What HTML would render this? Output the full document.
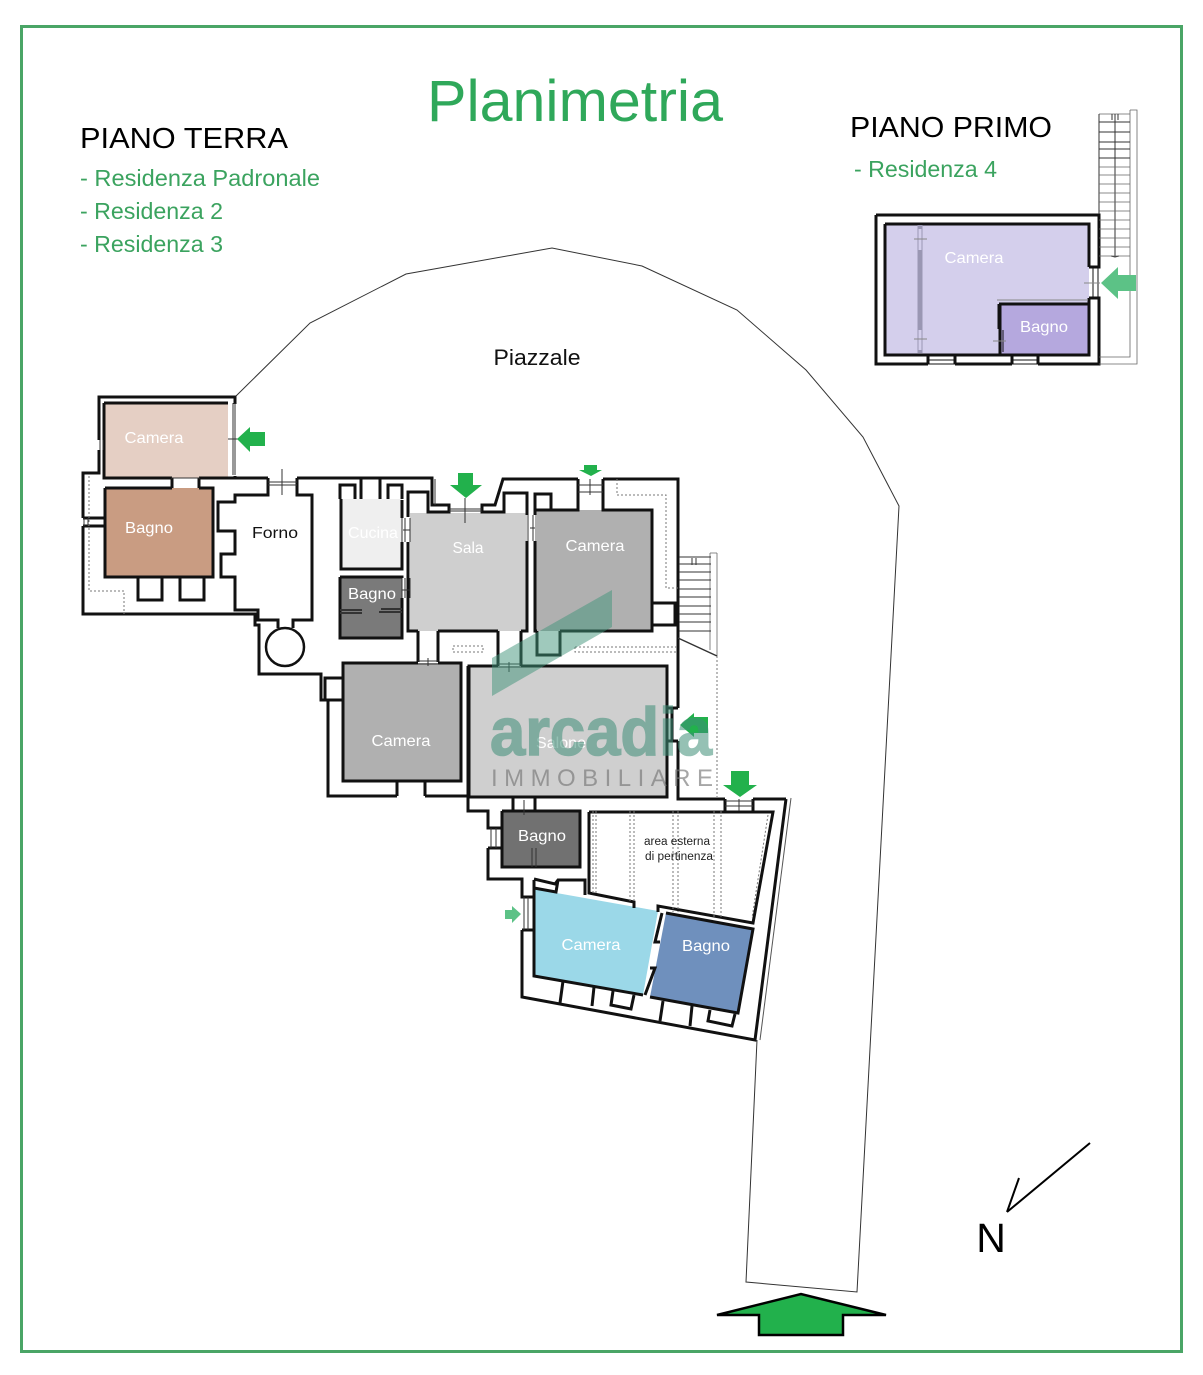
<!DOCTYPE html>
<html><head><meta charset="utf-8"><style>
html,body{margin:0;padding:0;background:#fff}
svg{display:block}
text{font-family:"Liberation Sans",sans-serif}
.w{fill:none;stroke:#111;stroke-width:3;stroke-linejoin:miter}
.t{fill:none;stroke:#333;stroke-width:1}
.th{fill:none;stroke:#666;stroke-width:.8}
.d{fill:none;stroke:#777;stroke-width:1;stroke-dasharray:2 2}
.l{fill:#fff;font-size:16px}
.k{fill:#111;font-size:16px}
.g{fill:#3ba35f;font-size:23px}
.a{fill:#22b14c}
.b{fill:#5cc286}
</style></head><body>
<svg width="1203" height="1375" viewBox="0 0 1203 1375" xmlns="http://www.w3.org/2000/svg">
<rect width="1203" height="1375" fill="#fff"/>
<rect x="21.5" y="26.5" width="1160" height="1325" fill="none" stroke="#4aa566" stroke-width="3"/>

<text x="427" y="121" textLength="296" lengthAdjust="spacingAndGlyphs" font-size="58" fill="#2fa85a">Planimetria</text>
<text x="80" y="148" textLength="208" lengthAdjust="spacingAndGlyphs" font-size="29" fill="#000">PIANO TERRA</text>
<text x="850" y="137" textLength="202" lengthAdjust="spacingAndGlyphs" font-size="29" fill="#000">PIANO PRIMO</text>
<text class="g" x="80" y="186" textLength="240" lengthAdjust="spacingAndGlyphs">- Residenza Padronale</text>
<text class="g" x="80" y="219" textLength="143" lengthAdjust="spacingAndGlyphs">- Residenza 2</text>
<text class="g" x="80" y="252" textLength="143" lengthAdjust="spacingAndGlyphs">- Residenza 3</text>
<text class="g" x="854" y="177" textLength="143" lengthAdjust="spacingAndGlyphs">- Residenza 4</text>

<!-- site boundary -->
<polyline class="t" points="235,397 310,323 406,274 552,248 642,266 737,310 806,370 863,437 899,506 857,1292 746,1282 757,1040"/>
<text x="537" y="365" text-anchor="middle" font-size="22" fill="#111" textLength="87" lengthAdjust="spacingAndGlyphs">Piazzale</text>

<!-- room fills -->
<rect x="104" y="403" width="124" height="75" fill="#e5cfc4"/>
<rect x="105" y="488" width="108" height="89" fill="#c99c82"/>
<rect x="341" y="499" width="61" height="70" fill="#efefef"/>
<rect x="340" y="577" width="62" height="61" fill="#7a7a7a"/>
<rect x="410" y="513" width="117" height="118" fill="#cfcfcf"/>
<rect x="535" y="510" width="117" height="121" fill="#b0b0b0"/>
<rect x="343" y="663" width="118" height="118" fill="#b0b0b0"/>
<rect x="469" y="666" width="198" height="131" fill="#cfcfcf"/>
<rect x="502" y="811" width="78" height="56" fill="#717171"/>
<polygon points="534,889 658,911 643,995 534,976" fill="#9bd8e8"/>
<polygon points="666,913 753,929 738,1013 650,997" fill="#6f90bd"/>
<rect x="885" y="224" width="204" height="131" fill="#d4cfec"/>
<rect x="1000" y="304" width="89" height="51" fill="#b5a8de"/>

<!-- ground floor walls -->
<path class="w" d="M235,404V397H99V440M99,450V473H83V518M83,526V614H255V625H259V674H321V700H328V796H397M425,796H468V666"/>
<path class="w" d="M104,403H228M104,403V478H172M199,478H228M235,476V478M172,478V488M199,478V488M105,488H172M199,488H213V577H105V488M83,518H105M83,526H105"/>
<path class="w" d="M138,577V600H162V577M180,577V600H204V577"/>
<path class="w" d="M228,478H268M297,478H432V505H449V512H428V492H408V517M408,542V631H418M438,631H498M521,631H527V541M527,515V493H504V512H482V505H495L503,479H578M603,479H678V708M678,741V799H725M753,799H786"/>
<path class="w" d="M268,478V495H235V502H218V531H235V554H221V577H235V610H258V620H278V628M297,478V495H312V620H293V628"/>
<circle cx="285" cy="647" r="19" fill="#fff" stroke="#111" stroke-width="2.5"/>
<path class="w" d="M340,499V485H355V499M361,499V479M380,499V479M388,499V485H402V499M341,499V569H402V542M402,518V500"/>
<path class="w" d="M340,577H402V578M340,577V638H402V598"/>
<path d="M340,610H362M340,613H362M379,612H402M381,609H402" stroke="#333" stroke-width="2" fill="none"/>
<path class="w" d="M535,510V494H551V510M535,510H578V479M603,479V510H652V631H560M537,631H535V541M535,515V510M652,603H675V625H652"/>
<path class="w" d="M418,631V662M438,631V662M498,631V666M521,631V666M537,631V655H560V631M418,663H343V781H461V663H438M343,678H325V700H343M397,781V796M425,781V796"/>
<path class="w" d="M498,666H469V797H667V666H521M667,708H678M667,741H678M672,708V741"/>
<path class="w" d="M468,797V811H488V828H502M488,848V879H522V897H534M522,930V997L755,1040L786,799M513,797V811M535,797V811M502,811H580V867H502V811M488,848H502M522,930H534"/>
<path class="w" d="M725,799V811M753,799V811M589,812H773L753,923L658,906V912M662,913L655,942H660M650,968H655L645,995M589,812V893L634,902V908"/>
<path class="w" d="M534,879L555,884L558,880H585V895M534,888L556,892L558,880M534,880V976L643,995"/>
<path class="w" d="M563,981L560,1003M594,987L592,1006M613,991L611,1005L631,1009L634,995M663,1001L660,1021M692,1006L690,1026M710,1010L708,1021L732,1026L735,1014"/>
<path class="w" d="M666,913L753,929L738,1013L650,997"/>
<path d="M791,798L760,1040" stroke="#555" stroke-width="1" fill="none"/>

<!-- window & door ticks -->
<path class="t" d="M282,469V495M268,482H297M268,485H297M435,479V505M449,509H482M449,511H482M465,498V523M402,518V542M405,518V542M410,518V542M403,530H410M402,578V598M405,578V598M410,578V598M402,590H410M528,515V541M533,515V541M530,528H535M590,479V495M578,485H603M578,492H603M418,661H438M418,664H438M428,658V666M498,664H521M498,667H521M509,662V672M238,439H228M233,403V475M235,403V475M100,440V450M103,440V450M84,518V526M88,518V526M524,800V815M739,799V811M725,801H753M725,806H753M524,897V930M528,897V930M532,848V867M536,848V867M491,828V848M496,828V848M171,478H200"/>

<!-- dashed service lines -->
<path class="d" d="M89,476V591H124V614"/>
<path class="d" d="M617,479V495H666V588H678"/>
<rect class="d" x="453" y="646" width="30" height="6"/>
<path class="d" d="M575,647V652H678M575,647H678"/>
<path class="th" d="M710,553H717M710,553V650M717,553V656"/>
<path d="M678,638L717,656" stroke="#333" stroke-width="1.5" fill="none"/>
<path class="t" d="M679,557H711M679,564H711M679,572H711M679,580H711M679,589H711M679,597H711M679,606H711M679,614H711M679,622H711M679,631H711M692,558V565M696,558V565"/>
<path class="d" d="M717,656V797"/>
<path class="d" d="M593,811V894M596,811V894M630,811V902M634,811V902M673,811V912M678,811V912M714,811V917M721,811V917M768,815L752,918"/>
<text x="677" y="845" text-anchor="middle" font-size="11.5" fill="#222" textLength="66" lengthAdjust="spacingAndGlyphs">area esterna</text>
<text x="679" y="860" text-anchor="middle" font-size="11.5" fill="#222" textLength="68" lengthAdjust="spacingAndGlyphs">di pertinenza</text>

<!-- first floor -->
<path class="w" d="M885,224H1089V267M1089,298V355H885V224"/>
<path class="w" d="M876,215H1099V267H1089M1089,298H1099V364H1038M1012,364H955M928,364H876V215M928,355V364M955,355V364M1012,355V364M1038,355V364"/>
<path class="w" d="M999,304H1089M999,304V329M1000,304V355H1089"/>
<path d="M999,330V352M1003,330V352" stroke="#111" stroke-width="1" fill="none"/>
<path d="M1093,267V298M1098,267V298M928,360H955M928,364H955M1012,360H1038M1012,364H1038" stroke="#111" stroke-width="1" fill="none"/>
<path d="M997,300H1088" stroke="#888" stroke-width="1" fill="none"/>
<path d="M918,225V353M922,225V353" stroke="#9a97b3" stroke-width="1" fill="none"/>
<path d="M920,225V229M920,250V330M920,350V353" stroke="#9a97b3" stroke-width="5" fill="none"/>
<path d="M914,239H927M914,339H927M993,341H1006M1084,283H1100" stroke="#888" stroke-width="1" fill="none"/>
<path class="th" d="M1099,114H1130V357H1099M1130,110H1137V364H1099M1130,110V114"/>
<path class="t" d="M1099,114V214M1099,122H1130M1099,132H1130M1099,142H1130M1099,149H1130M1099,158H1130M1115,114V257M1111,256L1115,257L1119,256M1112,114V120M1118,114V120"/>
<path class="th" d="M1099,167H1130M1099,175H1130M1099,184H1130M1099,193H1130M1099,202H1130M1099,211H1130M1099,220H1130M1099,229H1130M1099,238H1130M1099,247H1130M1099,256H1130"/>

<!-- labels -->
<text class="l" x="154" y="443" text-anchor="middle" textLength="59" lengthAdjust="spacingAndGlyphs">Camera</text>
<text class="l" x="149" y="533" text-anchor="middle" textLength="48" lengthAdjust="spacingAndGlyphs">Bagno</text>
<text class="k" x="275" y="538" text-anchor="middle" textLength="46" lengthAdjust="spacingAndGlyphs">Forno</text>
<text class="l" x="373" y="538" text-anchor="middle" textLength="50" lengthAdjust="spacingAndGlyphs">Cucina</text>
<text class="l" x="372" y="599" text-anchor="middle" textLength="48" lengthAdjust="spacingAndGlyphs">Bagno</text>
<text class="l" x="468" y="553" text-anchor="middle" textLength="31" lengthAdjust="spacingAndGlyphs">Sala</text>
<text class="l" x="595" y="551" text-anchor="middle" textLength="59" lengthAdjust="spacingAndGlyphs">Camera</text>
<text class="l" x="401" y="746" text-anchor="middle" textLength="59" lengthAdjust="spacingAndGlyphs">Camera</text>
<text class="l" x="561" y="748" text-anchor="middle" textLength="50" lengthAdjust="spacingAndGlyphs">Salone</text>
<text class="l" x="542" y="841" text-anchor="middle" textLength="48" lengthAdjust="spacingAndGlyphs">Bagno</text>
<text class="l" x="591" y="950" text-anchor="middle" textLength="59" lengthAdjust="spacingAndGlyphs">Camera</text>
<text class="l" x="706" y="951" text-anchor="middle" textLength="48" lengthAdjust="spacingAndGlyphs">Bagno</text>
<text class="l" x="974" y="263" text-anchor="middle" textLength="59" lengthAdjust="spacingAndGlyphs">Camera</text>
<text class="l" x="1044" y="332" text-anchor="middle" textLength="48" lengthAdjust="spacingAndGlyphs">Bagno</text>

<!-- entry arrows -->
<polygon class="a" points="237,439 250,427 250,432 265,432 265,446 250,446 250,452"/>
<polygon class="a" points="450,485 458,485 458,473 473,473 473,485 482,485 466,498"/>
<polygon class="a" points="584,465 597,465 597,470 602,470 591,476 579,470 584,470"/>
<polygon class="a" points="680,725 694,713 694,717 708,717 708,733 694,733 694,737"/>
<polygon class="a" points="723,785 731,785 731,771 749,771 749,785 757,785 740,797"/>
<polygon class="b" points="521,914 512,906 512,910 505,910 505,919 512,919 512,923"/>
<polygon class="b" points="1101,283 1118,267 1118,275 1136,275 1136,291 1118,291 1118,299"/>

<!-- main arrow -->
<polygon points="717,1315 801,1294 886,1315 843,1315 843,1335 759,1335 759,1315" fill="#22b14c" stroke="#000" stroke-width="2.5" stroke-linejoin="miter"/>

<!-- north -->
<path d="M1090,1143L1007,1212M1019,1178L1007,1212" stroke="#000" stroke-width="2" fill="none"/>
<text x="991" y="1252" text-anchor="middle" font-size="41" fill="#000">N</text>

<!-- watermark -->
<polygon points="612,590 612,627 492,696 492,658" fill="#3f9479" opacity=".5"/>
<text x="490" y="755" textLength="222" lengthAdjust="spacingAndGlyphs" font-size="68" font-weight="700" fill="#3f8f78" stroke="#3f8f78" stroke-width="1.5" opacity=".55">arcadia</text>
<text x="491" y="786" textLength="222" lengthAdjust="spacing" font-size="24" fill="#777" opacity=".65">IMMOBILIARE</text>
</svg>
</body></html>
